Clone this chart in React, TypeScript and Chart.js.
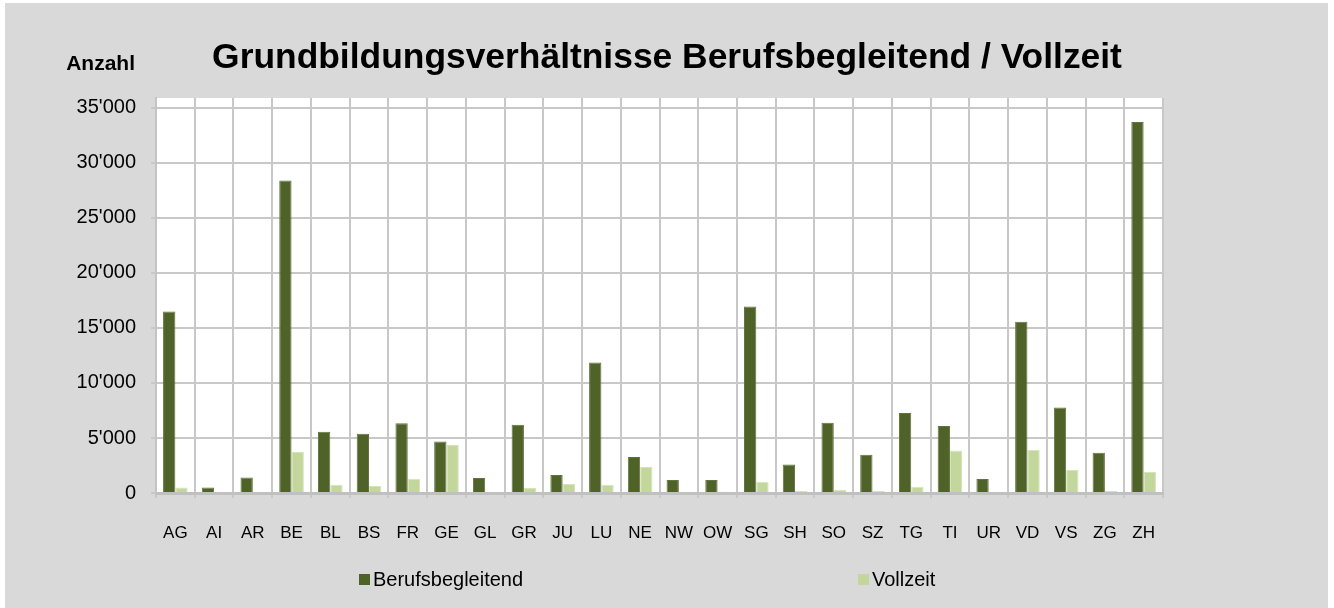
import React, { useEffect, useRef } from "react";
import { Chart, registerables } from "chart.js";

Chart.register(...registerables);

const categories = ["AG", "AI", "AR", "BE", "BL", "BS", "FR", "GE", "GL", "GR", "JU", "LU", "NE", "NW", "OW", "SG", "SH", "SO", "SZ", "TG", "TI", "UR", "VD", "VS", "ZG", "ZH"];
const berufsbegleitend = [16500, 500, 1400, 28400, 5570, 5390, 6330, 4690, 1360, 6210, 1640, 11850, 3270, 1180, 1180, 16940, 2600, 6390, 3480, 7270, 6090, 1270, 15570, 7780, 3660, 33730];
const vollzeit = [510, 0, 0, 3730, 760, 640, 1300, 4360, 0, 450, 820, 760, 2360, 0, 120, 1030, 180, 300, 180, 570, 3870, 0, 3940, 2090, 180, 1910];
const yTicks = [0, 5000, 10000, 15000, 20000, 25000, 30000, 35000];
const seriesNames = ["Berufsbegleitend", "Vollzeit"];
const titleText = "Grundbildungsverhältnisse Berufsbegleitend / Vollzeit";
const axisTitle = "Anzahl";

const FONT = "'Liberation Sans', Arial, sans-serif";
const DARK = "#4F6228";
const LIGHT = "#C3D69B";
const GRID = "#c8c8c8";

const fmt = (v: number) => String(v).replace(/\B(?=(\d{3})+(?!\d))/g, "'");

const decorPlugin = {
  id: "decor",
  beforeDraw(chart: any) {
    const { ctx, chartArea } = chart;
    ctx.save();
    ctx.fillStyle = "#ffffff";
    ctx.fillRect(chartArea.left, chartArea.top, chartArea.right - chartArea.left, chartArea.bottom - chartArea.top);
    ctx.restore();
  },
  afterDraw(chart: any) {
    const { ctx } = chart;
    ctx.save();
    ctx.fillStyle = "#000000";
    ctx.textBaseline = "alphabetic";
    ctx.font = `bold 35.4px ${FONT}`;
    ctx.textAlign = "center";
    ctx.fillText(titleText, 662, 65);
    ctx.font = `bold 21px ${FONT}`;
    ctx.textAlign = "right";
    ctx.fillText(axisTitle, 130, 67);
    // legend
    const items = [
      { x: 354, label: chart.data.datasets[0].label, color: chart.data.datasets[0].backgroundColor },
      { x: 853, label: chart.data.datasets[1].label, color: chart.data.datasets[1].backgroundColor },
    ];
    ctx.font = `20px ${FONT}`;
    ctx.textAlign = "left";
    ctx.textBaseline = "middle";
    for (const it of items) {
      ctx.fillStyle = it.color;
      ctx.fillRect(it.x, 571, 11, 11);
      ctx.fillStyle = "#000000";
      ctx.fillText(it.label, it.x + 14, 577);
    }
    ctx.restore();
  },
};

export default function App() {
  const ref = useRef<HTMLCanvasElement | null>(null);
  useEffect(() => {
    if (!ref.current) return;
    const chart = new Chart(ref.current, {
      type: "bar",
      data: {
        labels: categories,
        datasets: [
          {
            label: seriesNames[0],
            data: berufsbegleitend,
            backgroundColor: DARK,
            borderColor: "#62733d",
            borderWidth: 1,
            categoryPercentage: 0.636,
            barPercentage: 1,
          },
          {
            label: seriesNames[1],
            data: vollzeit,
            backgroundColor: LIGHT,
            borderColor: "#d6e3b5",
            borderWidth: 1,
            categoryPercentage: 0.636,
            barPercentage: 1,
          },
        ],
      },
      options: {
        responsive: false,
        animation: false,
        devicePixelRatio: 1,
        layout: { padding: { left: 0, right: 165, top: 95, bottom: 0 } },
        plugins: {
          legend: { display: false },
          title: { display: false },
          tooltip: { enabled: false },
        },
        scales: {
          x: {
            grid: { color: GRID, lineWidth: 2, drawTicks: true, tickLength: 5, offset: true },
            border: { display: true, color: "#c0c0c0", width: 3 },
            ticks: {
              color: "#000000",
              padding: 25,
              maxRotation: 0,
              autoSkip: false,
              font: { family: FONT, size: 17 },
            },
            afterFit(scale: any) {
              scale.height = 115;
            },
          },
          y: {
            min: 0,
            max: 35900,
            grid: { color: GRID, lineWidth: 2, drawTicks: true, tickLength: 5 },
            border: { display: true, color: "#c4c4c4", width: 2 },
            ticks: {
              stepSize: 5000,
              includeBounds: false,
              color: "#000000",
              padding: 15,
              font: { family: FONT, size: 20 },
              callback: (v: any) => fmt(Number(v)),
            },
            afterBuildTicks(scale: any) {
              scale.ticks = yTicks.map((v) => ({ value: v }));
            },
            afterFit(scale: any) {
              scale.width = 151;
            },
          },
        },
      },
      plugins: [decorPlugin],
    });
    return () => chart.destroy();
  }, []);

  return (
    <div style={{ position: "absolute", left: 0, top: 0, width: 1334, height: 608, background: "#ffffff", overflow: "hidden" }}>
      <div style={{ position: "absolute", left: 5, top: 3, width: 1323, height: 605, background: "#d9d9d9" }}>
        <canvas ref={ref} width={1323} height={605} style={{ display: "block" }} />
      </div>
    </div>
  );
}
